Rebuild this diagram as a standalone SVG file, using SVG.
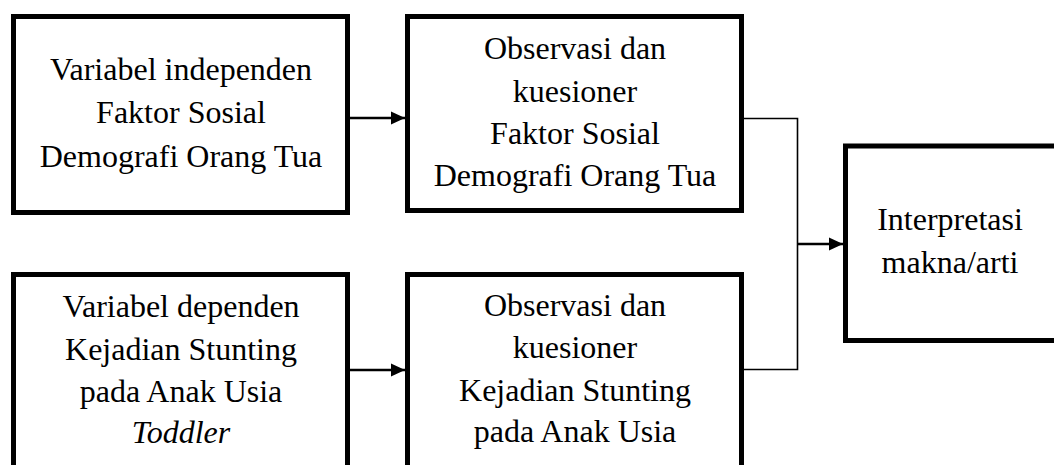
<svg xmlns="http://www.w3.org/2000/svg" width="1054" height="465" viewBox="0 0 1054 465">
<style>
.box{fill:#fff;stroke:#000;stroke-width:5}
.t{font-family:"Liberation Serif","Times New Roman",serif;font-size:32px;fill:#000;text-anchor:middle}
.i{font-style:italic}
.c{fill:none;stroke:#000;stroke-width:2.4}
.cl{fill:none;stroke:#000;stroke-width:1.6}
</style>
<defs>
<marker id="ah" markerWidth="14" markerHeight="14" viewBox="0 0 14 14" refX="14" refY="7" orient="auto" markerUnits="userSpaceOnUse">
<path d="M0,0.5 L14,7 L0,13.5 Z" fill="#000"/>
</marker>
</defs>
<rect width="1054" height="465" fill="#fff"/>
<g id="node-indep">
<rect class="box" x="13.5" y="16.5" width="334" height="196"/>
<text class="t" x="181" y="80">Variabel independen</text>
<text class="t" x="181" y="123">Faktor Sosial</text>
<text class="t" x="181" y="167">Demografi Orang Tua</text>
</g>
<g id="node-obs1">
<rect class="box" x="407.5" y="16.5" width="334" height="194"/>
<text class="t" x="575" y="59">Observasi dan</text>
<text class="t" x="575" y="102">kuesioner</text>
<text class="t" x="575" y="144">Faktor Sosial</text>
<text class="t" x="575" y="186">Demografi Orang Tua</text>
</g>
<g id="node-dep">
<rect class="box" x="13.5" y="274.5" width="334" height="220"/>
<text class="t" x="181" y="317">Variabel dependen</text>
<text class="t" x="181" y="360">Kejadian Stunting</text>
<text class="t" x="181" y="402">pada Anak Usia</text>
<text class="t i" x="181" y="443">Toddler</text>
</g>
<g id="node-obs2">
<rect class="box" x="407.5" y="274.5" width="334" height="220"/>
<text class="t" x="575" y="316">Observasi dan</text>
<text class="t" x="575" y="358">kuesioner</text>
<text class="t" x="575" y="401">Kejadian Stunting</text>
<text class="t" x="575" y="442">pada Anak Usia</text>
</g>
<g id="node-interp">
<rect class="box" x="845.5" y="146" width="230" height="194.5"/>
<text class="t" x="950" y="230">Interpretasi</text>
<text class="t" x="950" y="273">makna/arti</text>
</g>
<g id="connectors">
<line class="c" x1="350" y1="118" x2="405" y2="118" marker-end="url(#ah)"/>
<line class="c" x1="350" y1="370" x2="405" y2="370" marker-end="url(#ah)"/>
<polyline class="cl" points="744,118.5 797.5,118.5 797.5,369.5 744,369.5"/>
<line class="c" x1="797.5" y1="244" x2="843" y2="244" marker-end="url(#ah)"/>
</g>
</svg>
